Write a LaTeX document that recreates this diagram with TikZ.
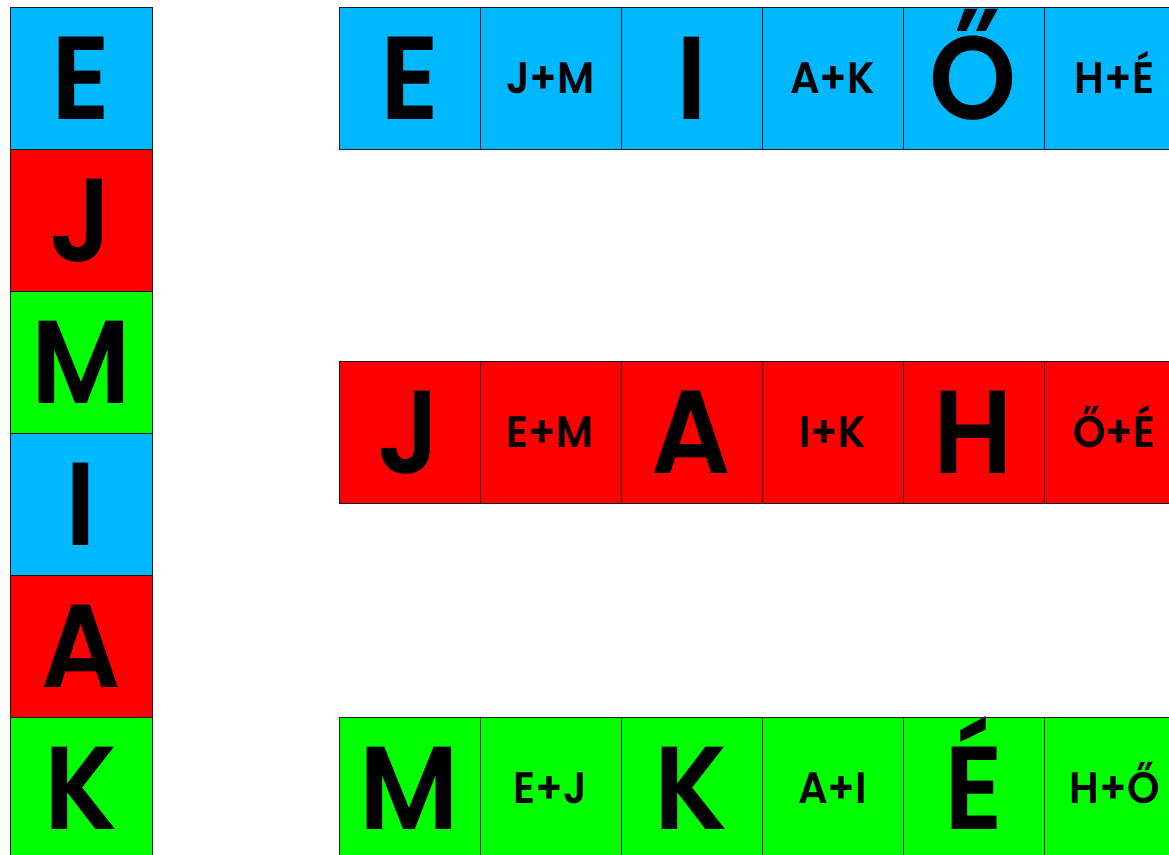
\documentclass[tikz,border=0pt]{standalone}
\usepackage{fontspec}
\setmainfont{Poppins}[BoldFont={Poppins SemiBold}, BoldFeatures={FakeStretch=0.94}]
\usetikzlibrary{positioning}
\definecolor{tileBlue}{HTML}{00B8FF}
\definecolor{tileRed}{HTML}{FF0000}
\definecolor{tileGreen}{HTML}{00FF00}
\definecolor{tileInk}{HTML}{1A1A1A}
\tikzset{
  tile/base/.style={draw=tileInk, line width=0.8pt, outer sep=0pt,
    inner sep=0pt, minimum width=141pt, minimum height=142pt,
    font=\fontsize{118}{118}\selectfont\bfseries,
    text height=82pt, text depth=0pt},
  tile/blue/.style={tile/base, fill=tileBlue},
  tile/red/.style={tile/base, fill=tileRed},
  tile/green/.style={tile/base, fill=tileGreen},
  % the pair tiles carry two letters in a smaller size
  tile/pair/.style={font=\fontsize{44}{44}\selectfont\bfseries,
    text height=31pt},
}

\begin{document}
\begin{tikzpicture}[
  x=1pt, y=1pt,
  node distance=0pt
]
\useasboundingbox (0,0) rectangle (1169,-854);
\clip (0,0) rectangle (1169,-854);
% left column
\node[tile/blue, minimum width=142pt, anchor=north west] (leftE) at (10,-7) {E};
\node[tile/red, minimum width=142pt, below=of leftE] (leftJ) {J};
\node[tile/green, minimum width=142pt, below=of leftJ] (leftM) {M};
\node[tile/blue, minimum width=142pt, below=of leftM] (leftI) {I};
\node[tile/red, minimum width=142pt, below=of leftI] (leftA) {A};
\node[tile/green, minimum width=142pt, below=of leftA] (leftK) {K};
% top row
\node[tile/blue, anchor=north west] (topE) at (339,-7) {E};
\node[tile/blue, tile/pair, right=of topE] (topJM) {J+M};
\node[tile/blue, right=of topJM] (topI) {I};
\node[tile/blue, tile/pair, right=of topI] (topAK) {A+K};
\node[tile/blue, right=of topAK] (topOO) {Ő};
\node[tile/blue, tile/pair, right=of topOO] (topHE) {H+É};
% middle row
\node[tile/red, anchor=north west] (midJ) at (339,-361) {J};
\node[tile/red, tile/pair, right=of midJ] (midEM) {E+M};
\node[tile/red, right=of midEM] (midA) {A};
\node[tile/red, tile/pair, right=of midA] (midIK) {I+K};
\node[tile/red, right=of midIK] (midH) {H};
\node[tile/red, tile/pair, right=of midH] (midOE) {Ő+É};
% bottom row
\node[tile/green, anchor=north west] (botM) at (339,-717) {M};
\node[tile/green, tile/pair, right=of botM] (botEJ) {E+J};
\node[tile/green, right=of botEJ] (botK) {K};
\node[tile/green, tile/pair, right=of botK] (botAI) {A+I};
\node[tile/green, right=of botAI] (botEE) {É};
\node[tile/green, tile/pair, right=of botEE] (botHO) {H+Ő};
\end{tikzpicture}
\end{document}
